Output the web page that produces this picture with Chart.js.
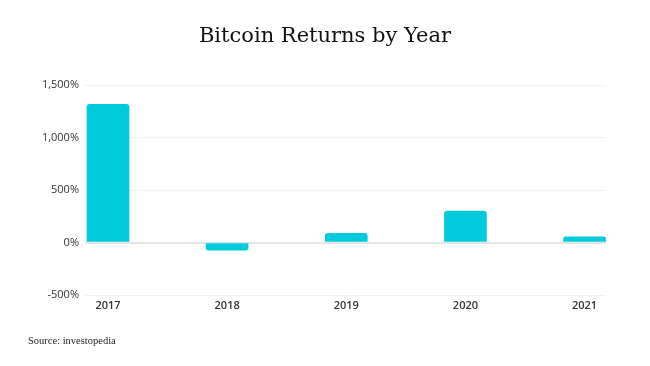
<!DOCTYPE html>
<html>
<head>
<meta charset="utf-8">
<script src="https://cdn.jsdelivr.net/npm/chart.js@4"></script>
<style>
  html, body { margin:0; padding:0; background:#fff; }
  #wrap { position:relative; width:650px; height:366px; overflow:hidden; }
  #title { position:absolute; left:0; width:650px; top:20px; text-align:center; font-family:"DejaVu Serif", serif; font-size:21px; color:#111; line-height:30px; }
  #source { position:absolute; left:28px; top:335px; font-family:"Liberation Serif", serif; font-size:10.5px; color:#222; }
  canvas { position:absolute; left:0; top:0; }
</style>
</head>
<body>
<div id="wrap">
  <canvas id="c" width="650" height="366"></canvas>
  <div id="title">Bitcoin Returns by Year</div>
  <div id="source">Source: investopedia</div>
</div>
<script>
const years = [2017, 2018, 2019, 2020, 2021];
const returnsPct = [1315, -74, 87, 300, 55];
const yTicks = [-500, 0, 500, 1000, 1500];

const points = years.map((y, i) => ({ x: y, y: returnsPct[i] }));

new Chart(document.getElementById('c'), {
  type: 'bar',
  data: {
    datasets: [{
      data: points,
      backgroundColor: '#00CBDD',
      borderRadius: 3,
      borderSkipped: 'start',
      barThickness: 42
    }]
  },
  options: {
    responsive: false,
    animation: false,
    layout: { padding: { left: 0, top: 85, right: 44, bottom: 0 } },
    plugins: { legend: { display: false }, tooltip: { enabled: false } },
    scales: {
      x: {
        type: 'linear',
        offset: false,
        min: 2016.807,
        max: 2021.18,
        grid: { display: false, drawTicks: false, offset: false },
        border: { display: false },
        afterFit: s => { s.height = 71; },
        ticks: {
          stepSize: 1,
          includeBounds: false,
          padding: 4,
          font: { family: 'Open Sans', size: 11, weight: '600' },
          color: '#333',
          callback: v => String(v)
        }
      },
      y: {
        min: yTicks[0],
        max: yTicks[yTicks.length - 1],
        afterFit: s => { s.width = 85; },
        afterBuildTicks: s => { s.ticks = yTicks.map(v => ({ value: v })); },
        grid: {
          drawTicks: false,
          color: ctx => ctx.tick && ctx.tick.value === 0 ? '#e4e4e4' : '#f1f1f1',
          lineWidth: ctx => ctx.tick && ctx.tick.value === 0 ? 2 : 1
        },
        border: { display: false },
        ticks: {
          padding: 6,
          font: { family: 'Open Sans', size: 11 },
          color: '#333',
          callback: v => v.toLocaleString('en-US') + '%'
        }
      }
    }
  }
});
</script>
</body>
</html>
